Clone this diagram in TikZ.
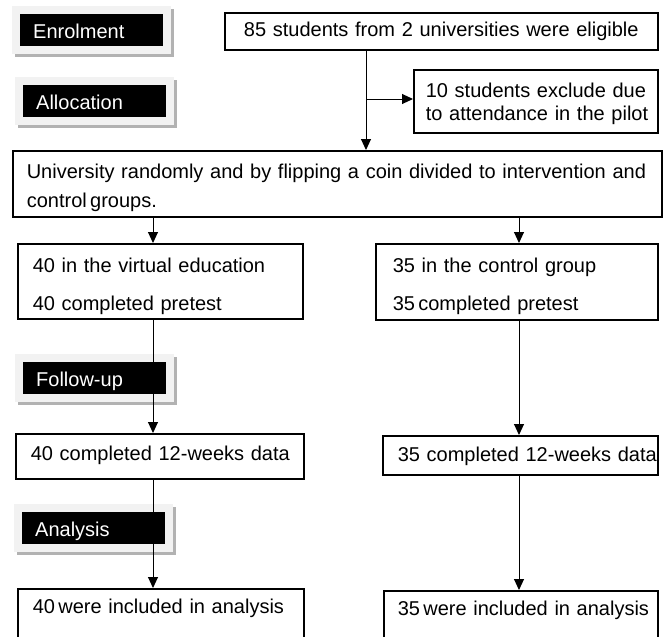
\documentclass[tikz,border=0pt]{standalone}
\usepackage{fontspec}
\setmainfont{Liberation Sans}
\usetikzlibrary{arrows.meta}

\newcommand{\boxfont}{\fontsize{20}{24}\selectfont}
% struts: first baseline below the top edge, and room under the last line
\newcommand{\tstr}[1]{\rule{0pt}{#1pt}}
\newcommand{\bstr}[1]{\rule[-#1pt]{0pt}{#1pt}}

\begin{document}
\begin{tikzpicture}[x=1pt, y=-1pt, every node/.style={font=\boxfont},
  flowbox/.style={draw, line width=1.6pt, anchor=north west, inner ysep=0pt, align=left},
  stagebox/.style={fill=black, text=white, anchor=north west, minimum width=143pt,
    minimum height=32pt, inner xsep=13pt, inner ysep=0pt, text width=117pt,
    align=left, text height=18pt, text depth=2pt},
  arr/.style={line width=1pt, -{Triangle[length=11pt,width=10pt]}}]
\useasboundingbox (0,0) rectangle (665,637);

% stage labels down the left side
\foreach \nm/\lbl/\xx/\yy in {enrol/Enrolment/20/14, alloc/Allocation/23/85,
    follow/Follow-up/23/362, anal/Analysis/22/512} {
  \fill[black!30] (\xx-5,\yy-5) rectangle (\xx+154,\yy+43);
  \fill[black!5] (\xx-8,\yy-8) rectangle (\xx+151,\yy+40);
  \node[stagebox] (\nm) at (\xx,\yy) {\lbl};
}

% enrolment and allocation
\node[flowbox, text width=413pt, inner xsep=10pt, align=center] (elig) at (224,12)
  {\tstr{24}\mbox{85 students from 2 universities were eligible}\bstr{13}};
\node[flowbox, text width=220pt, inner xsep=12pt] (excl) at (413,69)
  {\tstr{28}\mbox{10 students exclude due}\\[-1pt]\mbox{to attendance in the pilot}\bstr{12}};
\node[flowbox, text width=621pt, inner xsep=14pt] (univ) at (12,150)
  {\tstr{28}\mbox{University randomly and by flipping a coin divided to intervention and}\\[5pt]control\,groups.\bstr{9}};

% the two arms
\node[flowbox, text width=255pt, inner xsep=15pt] (virt) at (17,243)
  {\tstr{29}\mbox{40 in the virtual education}\\[14pt]\mbox{40 completed pretest}\bstr{8}};
\node[flowbox, text width=248pt, inner xsep=17pt] (ctrl) at (375,243)
  {\tstr{29}\mbox{35 in the control group}\\[14pt]\mbox{35\,completed pretest}\bstr{9}};
\node[flowbox, text width=258pt, inner xsep=15pt] (vdata) at (15,433)
  {\tstr{27}\mbox{40 completed 12-weeks data}\bstr{18}};
\node[flowbox, text width=245pt, inner xsep=15pt] (cdata) at (382,435)
  {\tstr{26}\mbox{35 completed 12-weeks data}\bstr{13}};
\node[flowbox, text width=256pt, inner xsep=15pt] (vanal) at (17,588)
  {\tstr{25}\mbox{40\,were included in analysis}\bstr{40}};
\node[flowbox, text width=246pt, inner xsep=14pt] (canal) at (383,590)
  {\tstr{25}\mbox{35\,were included in analysis}\bstr{40}};

% connectors
\coordinate (split) at (366,99);
\coordinate (lcol) at (153,0);
\coordinate (rcol) at (519,0);
\draw[arr] (split |- elig.south) -- (split |- univ.north);
\draw[arr] (split) -- (split -| excl.west);
\draw[arr] (lcol |- univ.south) -- (lcol |- virt.north);
\draw[arr] (rcol |- univ.south) -- (rcol |- ctrl.north);
\draw[arr] (lcol |- virt.south) -- (lcol |- vdata.north);
\draw[arr] (rcol |- ctrl.south) -- (rcol |- cdata.north);
\draw[arr] (lcol |- vdata.south) -- (lcol |- vanal.north);
\draw[arr] (rcol |- cdata.south) -- (rcol |- canal.north);
\end{tikzpicture}
\end{document}
